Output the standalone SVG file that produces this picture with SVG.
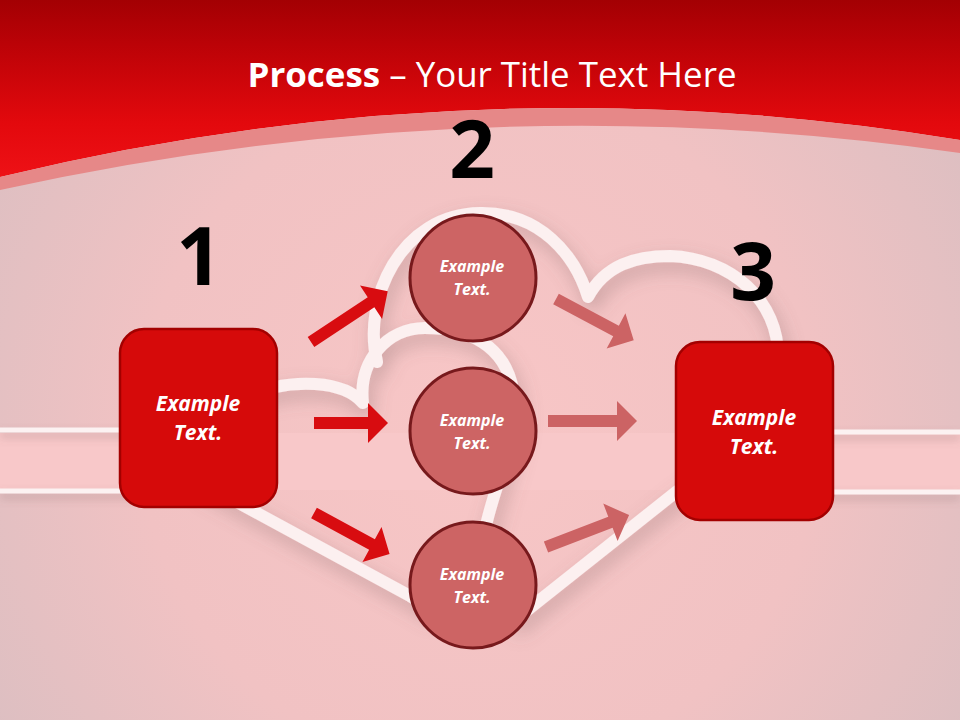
<svg xmlns="http://www.w3.org/2000/svg" width="960" height="720" viewBox="0 0 960 720">
<defs>
  <linearGradient id="hdr" x1="0" y1="0" x2="0" y2="1" gradientUnits="objectBoundingBox">
    <stop offset="0" stop-color="#a30003"/>
    <stop offset="0.25" stop-color="#bb0207"/>
    <stop offset="0.7" stop-color="#e3090d"/>
    <stop offset="1" stop-color="#ee1116"/>
  </linearGradient>
  <radialGradient id="bg" cx="480" cy="430" r="620" gradientUnits="userSpaceOnUse">
    <stop offset="0" stop-color="#f8c6c6"/>
    <stop offset="0.55" stop-color="#f1c2c3"/>
    <stop offset="1" stop-color="#d8bec1"/>
  </radialGradient>
  <filter id="sh" x="-20%" y="-20%" width="140%" height="140%">
    <feGaussianBlur in="SourceAlpha" stdDeviation="9"/>
    <feOffset dx="4" dy="8" result="b"/>
    <feFlood flood-color="#7a6060" flood-opacity="0.35"/>
    <feComposite in2="b" operator="in"/>
    <feMerge><feMergeNode/><feMergeNode in="SourceGraphic"/></feMerge>
  </filter>
  <filter id="sh2" x="-10%" y="-50%" width="120%" height="300%">
    <feGaussianBlur in="SourceAlpha" stdDeviation="4"/>
    <feOffset dx="0" dy="5" result="b"/>
    <feFlood flood-color="#7a6060" flood-opacity="0.3"/>
    <feComposite in2="b" operator="in"/>
    <feMerge><feMergeNode/><feMergeNode in="SourceGraphic"/></feMerge>
  </filter>
  <style>
    .heart{fill:none;stroke:#fcf0f0;stroke-width:12;stroke-linecap:round;stroke-linejoin:round}
    .hline{stroke:#fcf2f2;stroke-width:5}
    .box{fill:#d60a0a;stroke:#a30000;stroke-width:2.5}
    .circ{fill:#cd6464;stroke:#77191c;stroke-width:3}
    .lbl{font-family:"Open Sans","Liberation Sans",sans-serif;font-weight:bold;font-style:italic;fill:#ffffff;text-anchor:middle}
    .big{font-size:21px}
    .small{font-size:16px}
    .num{font-family:"Open Sans","Liberation Sans",sans-serif;font-weight:bold;font-size:80px;fill:#000000;text-anchor:middle}
    .arrA{fill:#d80c10}
    .arrB{fill:#cc6364}
  </style>
</defs>

<!-- background -->
<rect x="0" y="0" width="960" height="720" fill="url(#bg)"/>
<rect x="0" y="433" width="960" height="57" fill="#f8c8c9"/>
<path d="M0,0 H960 V140 Q480,61 0,177 Z" fill="url(#hdr)"/>
<path d="M0,177 Q480,61 960,140 V153 Q480,84 0,190 Z" fill="#e68888"/>

<!-- hearts -->
<g id="hearts" filter="url(#sh)">
  <path class="heart" d="M377,362 C362,300 400,214 480,213 C540,212 575,255 588,297 C605,265 635,256 670,256 C730,258 780,300 778,360 C776,420 730,455 676,492 L540,600 L515,620"/>
  <path class="heart" d="M200,482 L410,596 L430,608"/>
  <path class="heart" d="M240,398 C295,375 345,382 363,403 C358,360 388,328 425,328 C468,328 505,345 513,390 C520,440 495,480 485,530"/>
</g>

<!-- horizontal lines -->
<g id="lines" filter="url(#sh2)">
  <line class="hline" x1="0" y1="430" x2="150" y2="430"/>
  <line class="hline" x1="0" y1="491" x2="150" y2="491"/>
  <line class="hline" x1="800" y1="432" x2="960" y2="432"/>
  <line class="hline" x1="800" y1="492" x2="960" y2="492"/>
</g>

<!-- title -->
<text x="492" y="87" font-family="'Open Sans','Liberation Sans',sans-serif" font-size="34" fill="#ffffff" text-anchor="middle" textLength="489" lengthAdjust="spacingAndGlyphs"><tspan font-weight="bold">Process</tspan> – Your Title Text Here</text>

<!-- connectors -->
<g id="connectors">
  <path class="arrA" transform="translate(311,342) rotate(-33.5)" d="M0,-6 H72 V-20 L92,0 L72,20 V6 H0 Z"/>
  <path class="arrA" transform="translate(314,423)" d="M0,-6 H54 V-20 L74,0 L54,20 V6 H0 Z"/>
  <path class="arrA" transform="translate(314,513) rotate(28.5)" d="M0,-6 H66 V-20 L86,0 L66,20 V6 H0 Z"/>
  <path class="arrB" transform="translate(556,299) rotate(28)" d="M0,-6 H68 V-20 L88,0 L68,20 V6 H0 Z"/>
  <path class="arrB" transform="translate(548,421)" d="M0,-6 H69 V-20 L89,0 L69,20 V6 H0 Z"/>
  <path class="arrB" transform="translate(546,547) rotate(-21)" d="M0,-6 H69 V-20 L89,0 L69,20 V6 H0 Z"/>
</g>

<!-- numbers -->
<text class="num" x="199" y="285">1</text>
<text class="num" x="472" y="178">2</text>
<text class="num" x="753" y="300">3</text>

<!-- nodes -->
<g id="node1">
  <rect class="box" x="120" y="329" width="157" height="178" rx="24"/>
  <text class="lbl big" x="198" y="411">Example</text>
  <text class="lbl big" x="198" y="440">Text.</text>
</g>
<g id="node2a">
  <circle class="circ" cx="473" cy="278" r="63"/>
  <text class="lbl small" x="472" y="272">Example</text>
  <text class="lbl small" x="472" y="295">Text.</text>
</g>
<g id="node2b">
  <circle class="circ" cx="473" cy="431" r="63"/>
  <text class="lbl small" x="472" y="426">Example</text>
  <text class="lbl small" x="472" y="449">Text.</text>
</g>
<g id="node2c">
  <circle class="circ" cx="473" cy="585" r="63"/>
  <text class="lbl small" x="472" y="580">Example</text>
  <text class="lbl small" x="472" y="603">Text.</text>
</g>
<g id="node3">
  <rect class="box" x="676" y="342" width="157" height="178" rx="24"/>
  <text class="lbl big" x="754" y="425">Example</text>
  <text class="lbl big" x="754" y="454">Text.</text>
</g>
</svg>
